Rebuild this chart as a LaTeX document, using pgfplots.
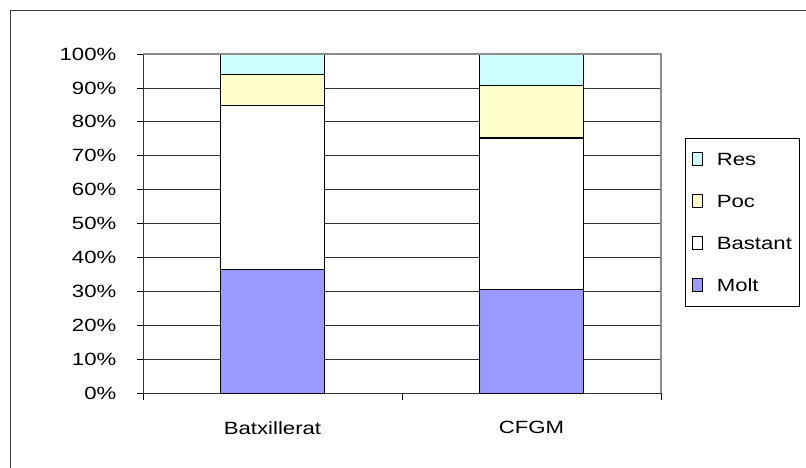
\documentclass[border=0pt]{standalone}
\usepackage{pgfplots}
\pgfplotsset{compat=1.18}
\usepackage{fontspec}
\setmainfont{Liberation Sans}[FakeStretch=1.25]

\definecolor{molt}{HTML}{9999FF}
\definecolor{bastant}{HTML}{FFFFFF}
\definecolor{poc}{HTML}{FFFFCC}
\definecolor{res}{HTML}{CCFFFF}

\newcommand{\lbl}{\fontsize{17.8}{21}\selectfont}

\begin{document}
\begin{tikzpicture}
\useasboundingbox (0,0) rectangle (806bp,468bp);
% outer chart frame (cut off at right and bottom)
\draw[line width=1bp, black!75] (10.5bp,-20bp) |- (830bp,457.5bp);

\begin{axis}[
  at={(143bp,74.7bp)}, anchor=south west,
  scale only axis, width=518bp, height=339.3bp,
  ybar stacked, bar width=0.4,
  xmin=-0.5, xmax=1.5, ymin=0, ymax=100,
  xtick={-0.5,0.5,1.5}, xticklabels={},
  extra x ticks={0,1}, extra x tick labels={Batxillerat,CFGM},
  extra x tick style={major tick length=0pt},
  ytick={0,10,...,100},
  yticklabel={\pgfmathprintnumber[assume math mode=true]{\tick}\%},
  tick pos=left, tick align=outside,
  major tick length=6.5bp,
  tick style={black, line width=0.8bp},
  ymajorgrids, grid style={black!80, line width=0.8bp},
  axis line style={black!80, line width=0.8bp},
  tick label style={font=\lbl},
  yticklabel style={anchor=east, inner sep=0pt, xshift=-20bp},
  xticklabel style={anchor=north, inner sep=0pt, yshift=-28bp},
  legend style={at={(1.0463,0.7524)}, anchor=north west,
    draw=black, line width=0.8bp, font=\lbl,
    inner xsep=7bp, inner ysep=14bp, row sep=28.3bp, column sep=13.4bp,
    nodes={inner sep=0pt, text height=12.7bp, text depth=0pt}},
  legend cell align=left,
  reverse legend,
  legend image code/.code={\draw[#1, draw=black, line width=1bp] (0bp,-6.35bp) rectangle (10bp,6.35bp);},
  after end axis/.code={\draw[black!45, line width=1.5bp] (rel axis cs:0,1) -- (rel axis cs:1,1) -- (rel axis cs:1,0);},
]
\addplot[fill=molt, draw=black, line width=1.3bp] coordinates {(0,36.5) (1,30.6)};
\addplot[fill=bastant, draw=black, line width=1.3bp] coordinates {(0,48.4) (1,44.6)};
\addplot[fill=poc, draw=black, line width=1.3bp] coordinates {(0,9.1) (1,15.6)};
\addplot[fill=res, draw=black, line width=1.3bp] coordinates {(0,6.0) (1,9.2)};
\addlegendentry{Molt}
\addlegendentry{Bastant}
\addlegendentry{Poc}
\addlegendentry{Res}
\end{axis}
\end{tikzpicture}
\end{document}
